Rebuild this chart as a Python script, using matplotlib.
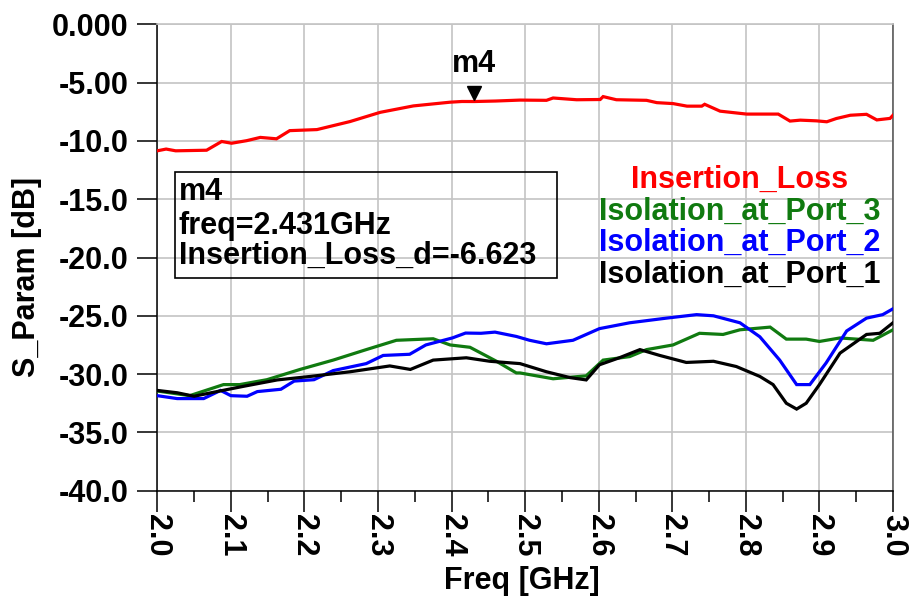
import matplotlib
matplotlib.use("Agg")
import matplotlib.pyplot as plt
import matplotlib.transforms as mtransforms
from matplotlib.patches import Rectangle
from matplotlib.ticker import MultipleLocator

plt.rcParams['font.family'] = ['Liberation Sans', 'DejaVu Sans']
plt.rcParams['font.weight'] = 'bold'

# S-parameter sweeps, 2-3 GHz
il_freq = [2.000, 2.012, 2.025, 2.067, 2.0875, 2.101, 2.1215, 2.140, 2.162, 2.180,
           2.217, 2.262, 2.303, 2.348, 2.398, 2.414, 2.431, 2.460, 2.493, 2.529,
           2.538, 2.570, 2.602, 2.606, 2.624, 2.665, 2.679, 2.701, 2.720, 2.740,
           2.744, 2.765, 2.801, 2.844, 2.860, 2.874, 2.896, 2.910, 2.923, 2.942,
           2.964, 2.978, 2.996, 3.000]
il_db = [-10.85, -10.70, -10.85, -10.80, -10.05, -10.20, -9.98, -9.70, -9.82, -9.12,
         -9.03, -8.34, -7.55, -7.00, -6.68, -6.62, -6.623, -6.58, -6.50, -6.52,
         -6.32, -6.47, -6.45, -6.20, -6.47, -6.52, -6.72, -6.80, -7.02, -7.02,
         -6.86, -7.45, -7.70, -7.70, -8.30, -8.22, -8.28, -8.36, -8.08, -7.80,
         -7.72, -8.20, -8.07, -7.80]

p3_freq = [2.000, 2.044, 2.090, 2.112, 2.149, 2.194, 2.239, 2.284, 2.325, 2.375,
           2.398, 2.425, 2.461, 2.488, 2.493, 2.538, 2.583, 2.606, 2.642, 2.665,
           2.701, 2.737, 2.769, 2.792, 2.833, 2.855, 2.882, 2.900, 2.928, 2.973,
           3.000]
p3_db = [-31.45, -31.85, -30.90, -30.90, -30.48, -29.60, -28.80, -27.90, -27.10, -26.97,
         -27.50, -27.70, -28.90, -29.90, -29.90, -30.40, -30.15, -28.80, -28.50, -27.90,
         -27.50, -26.50, -26.60, -26.20, -25.97, -27.00, -27.00, -27.20, -26.90, -27.10,
         -26.20]

p2_freq = [2.000, 2.027, 2.063, 2.086, 2.100, 2.122, 2.136, 2.168, 2.186, 2.213,
           2.239, 2.284, 2.307, 2.343, 2.365, 2.383, 2.401, 2.419, 2.440, 2.459,
           2.488, 2.506, 2.529, 2.565, 2.601, 2.642, 2.692, 2.733, 2.756, 2.792,
           2.819, 2.846, 2.869, 2.887, 2.909, 2.937, 2.964, 2.986, 3.000]
p2_db = [-31.85, -32.10, -32.10, -31.40, -31.85, -31.90, -31.50, -31.30, -30.60, -30.48,
         -29.70, -29.10, -28.40, -28.30, -27.50, -27.20, -26.90, -26.48, -26.50, -26.40,
         -26.77, -27.10, -27.40, -27.10, -26.10, -25.60, -25.20, -24.90, -25.00, -25.60,
         -26.80, -28.80, -30.90, -30.90, -29.05, -26.30, -25.20, -24.90, -24.40]

p1_freq = [2.000, 2.027, 2.050, 2.081, 2.117, 2.163, 2.208, 2.262, 2.316, 2.344,
           2.375, 2.420, 2.452, 2.493, 2.529, 2.561, 2.583, 2.601, 2.628, 2.656,
           2.683, 2.719, 2.756, 2.787, 2.819, 2.837, 2.855, 2.869, 2.882, 2.900,
           2.928, 2.964, 2.982, 3.000]
p1_db = [-31.40, -31.60, -31.90, -31.50, -31.05, -30.50, -30.20, -29.80, -29.30, -29.60,
         -28.80, -28.60, -28.90, -29.10, -29.80, -30.30, -30.50, -29.20, -28.60, -27.90,
         -28.40, -29.00, -28.90, -29.35, -30.20, -30.90, -32.50, -33.00, -32.50, -30.90,
         -28.20, -26.60, -26.50, -25.60]

series_names = ['Insertion_Loss', 'Isolation_at_Port_3', 'Isolation_at_Port_2', 'Isolation_at_Port_1']
series_colors = ['#ff0000', '#107a10', '#0000ff', '#000000']

y_ticks = [0, -5, -10, -15, -20, -25, -30, -35, -40]
y_tick_labels = ['0.000', '-5.00', '-10.0', '-15.0', '-20.0', '-25.0', '-30.0', '-35.0', '-40.0']
x_ticks = [2.0, 2.1, 2.2, 2.3, 2.4, 2.5, 2.6, 2.7, 2.8, 2.9, 3.0]
x_tick_labels = ['2.0', '2.1', '2.2', '2.3', '2.4', '2.5', '2.6', '2.7', '2.8', '2.9', '3.0']

marker_freq = 2.431
marker_val = -6.623

W, H = 913, 604
fig = plt.figure(figsize=(W / 100, H / 100), dpi=100)
ax = fig.add_axes([157.3 / W, 1 - 490.7 / H, 735.7 / W, 466.4 / H])

for f, d, c in zip([il_freq, p3_freq, p2_freq, p1_freq], [il_db, p3_db, p2_db, p1_db], series_colors):
    ax.plot(f, d, color=c, lw=2.3, solid_joinstyle='miter', zorder=3)

ax.set_xlim(2.0, 3.0)
ax.set_ylim(-40, 0)
ax.set_yticks(y_ticks)
ax.set_yticklabels(y_tick_labels)
ax.set_xticks(x_ticks)
ax.set_xticklabels(x_tick_labels, rotation=-90)
ax.xaxis.set_minor_locator(MultipleLocator(0.05))
ax.grid(True, which='major', color='#c4c4c4', lw=1.2, zorder=0)

ax.tick_params(axis='both', which='major', direction='out', width=1.1, labelsize=22)
ax.tick_params(axis='y', which='major', length=14.5, pad=6)
ax.tick_params(axis='x', which='major', length=15, pad=2)
ax.tick_params(axis='x', which='minor', direction='out', length=8, width=1.1)
for lab in ax.get_xticklabels() + ax.get_yticklabels():
    lab.set_fontweight('bold')

for side in ['left', 'bottom']:
    ax.spines[side].set_color('black')
    ax.spines[side].set_linewidth(1.1)
ax.spines['top'].set_color('#c4c4c4')
ax.spines['top'].set_linewidth(1.2)
ax.spines['right'].set_color('#505050')
ax.spines['right'].set_linewidth(1.1)

# axis titles
fig.text(27.5 / W, 1 - 277 / H, 'S_Param [dB]', rotation=90, ha='center', va='center',
         fontsize=22, fontweight='bold')
fig.text(522 / W, 1 - 581 / H, 'Freq [GHz]', ha='center', va='center',
         fontsize=22, fontweight='bold')

# trace names, centred text block
for name, c, base in zip(series_names, series_colors, [188, 220, 251, 283]):
    fig.text(740 / W, 1 - base / H, name, color=c, ha='center', va='baseline',
             fontsize=22, fontweight='bold')

# marker m4 on the insertion loss trace
tri = mtransforms.offset_copy(ax.transData, fig=fig, x=0, y=9, units='dots')
ax.plot([marker_freq], [marker_val], marker='v', color='black', markersize=10,
        transform=tri, zorder=5, clip_on=False)
lbl = mtransforms.offset_copy(ax.transData, fig=fig, x=0, y=30, units='dots')
ax.text(marker_freq, marker_val, 'm4', transform=lbl, ha='center', va='baseline',
        fontsize=22, fontweight='bold')

# marker readout box
box = Rectangle((175 / W, 1 - 278 / H), (557 - 175) / W, (278 - 172) / H,
                transform=fig.transFigure, fill=False, edgecolor='black', lw=1.2)
fig.patches.append(box)
readout = ['m4', 'freq=%.3fGHz' % marker_freq, 'Insertion_Loss_d=%.3f' % marker_val]
for line, base in zip(readout, [200, 234, 264]):
    fig.text(178.5 / W, 1 - base / H, line, ha='left', va='baseline',
             fontsize=22, fontweight='bold')

fig.savefig('out.png', dpi=100)
